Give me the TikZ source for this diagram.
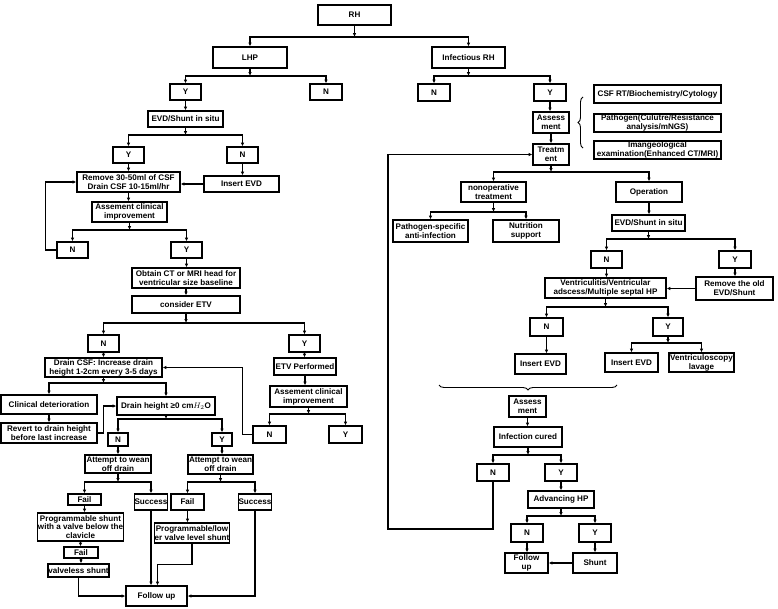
\documentclass[tikz,border=0pt]{standalone}
\usepackage{fontspec}
\setmainfont{Liberation Sans}
\usetikzlibrary{arrows.meta,decorations.pathreplacing}
\tikzset{
  box/.style={draw, line width=1.1pt, inner sep=0.3pt, align=center,
    font=\fontsize{8.1}{8.9}\selectfont\bfseries},
  arr/.style={line width=1.05pt, -{Latex[length=3.8pt,width=3.4pt]}},
  ln/.style={line width=1.05pt},
  brc/.style={line width=0.9pt, decorate, decoration={brace, amplitude=5pt}},
}
\newcommand\bx[6]{\node[box,minimum width=#4pt,minimum height=#5pt] (#1) at (#2,#3) {#6};}
\newcommand\fork[3]{%
  \coordinate (j#1) at (#1.south |- 0,#2);
  \draw[arr] (#1.south) -- (j#1);
  \foreach \ch in {#3}{\draw[arr] (j#1) -| (\ch.north);}}
\begin{document}
\begin{tikzpicture}[x=1pt,y=-1pt]
\fill[white] (0,0) rectangle (778,608);
\useasboundingbox (0,0) rectangle (778,608);
% ---------- left branch ----------
\bx{RH}{354.5}{15}{73}{20}{RH}
\bx{LHP}{250}{57.5}{74}{21}{LHP}
\bx{Ya}{185.5}{92}{31}{16}{Y}
\bx{Na}{326}{92}{32}{16}{N}
\bx{EVDa}{185.5}{119}{75}{16}{EVD/Shunt in situ}
\bx{Yb}{128.5}{155}{31}{16}{Y}
\bx{Nb}{242.5}{155}{31}{16}{N}
\bx{Rem}{128.5}{182}{103}{20}{Remove 30-50ml of CSF\\Drain CSF 10-15ml/hr}
\bx{InsA}{241.5}{184}{75}{16}{Insert EVD}
\bx{AsA}{129.5}{212}{75}{20}{Assement clinical\\improvement}
\bx{Nc}{72.5}{250}{31}{16}{N}
\bx{Yc}{186.5}{250}{31}{16}{Y}
\bx{Obt}{186}{278}{108}{20}{Obtain CT or MRI head for\\ventricular size baseline}
\bx{ETV}{186}{304.5}{108}{17}{consider ETV}
\bx{Nd}{103.5}{343.5}{31}{17}{N}
\bx{Yd}{304.5}{343.5}{31}{17}{Y}
\bx{Dcsf}{103.5}{367.5}{117}{19}{Drain CSF: Increase drain\\height 1-2cm every 3-5 days}
\bx{ETVp}{305}{366.5}{62}{17}{ETV Performed}
\bx{AsB}{308.5}{396.5}{77}{21}{Assement clinical\\improvement}
\bx{Ne}{269.5}{434.5}{33}{17}{N}
\bx{Ye}{345.5}{434.5}{33}{17}{Y}
\bx{Clin}{49}{404.5}{96}{19}{Clinical deterioration}
\bx{Rev}{49}{433}{96}{20}{Revert to drain height\\before last increase}
\bx{Dh}{166}{406}{98}{18}{Drain height ≥0 cm$H_2$O}
\bx{Nf}{118}{439.5}{20}{13}{N}
\bx{Yf}{222}{439.5}{20}{13}{Y}
\bx{AtA}{118}{464}{66}{18}{Attempt to wean\\off drain}
\bx{AtB}{220.5}{464.5}{65}{19}{Attempt to wean\\off drain}
\bx{FailA}{84.5}{499.5}{33}{11}{Fail}
\bx{SucA}{151}{502}{30}{16}{Success}
\bx{FailB}{187.5}{502}{33}{16}{Fail}
\bx{SucB}{255}{502}{30}{16}{Success}
\bx{Prog}{80.5}{527}{81}{28}{Programmable shunt\\with a valve below the\\clavicle}
\bx{FailC}{81}{552.5}{34}{11}{Fail}
\bx{Valv}{78.5}{570.5}{61}{13}{valveless shunt}
\bx{ProgL}{192}{533}{72}{20}{Programmable/low\\er valve level shunt}
\bx{Fol}{156.5}{596}{61}{20}{Follow up}
% ---------- right branch ----------
\bx{InfRH}{468.5}{57.5}{73}{21}{Infectious RH}
\bx{Ng}{434}{92.5}{32}{17}{N}
\bx{Yg}{550}{92.5}{32}{17}{Y}
\bx{AssA}{551}{122.5}{36}{21}{Assess\\ment}
\bx{Tr}{551}{154.5}{36}{21}{Treatm\\ent}
\bx{CSF}{657.5}{94}{127}{18}{CSF RT/Biochemistry/Cytology}
\bx{Path}{657.5}{123}{127}{18}{Pathogen(Culutre/Resistance\\analysis/mNGS)}
\bx{Img}{657.5}{150}{127}{18}{Imangeological\\examination(Enhanced CT/MRI)}
\bx{Nonop}{493.5}{192}{65}{20}{nonoperative\\treatment}
\bx{Oper}{649}{192}{66}{20}{Operation}
\bx{PSpec}{430.5}{231}{75}{22}{Pathogen-specific\\anti-infection}
\bx{Nutr}{526}{231}{66}{22}{Nutrition\\support}
\bx{EVDb}{648.5}{223}{73}{16}{EVD/Shunt in situ}
\bx{Nh}{606.5}{259.5}{31}{17}{N}
\bx{Yh}{735}{259.5}{32}{17}{Y}
\bx{Vent}{605.5}{288}{121}{20}{Ventriculitis/Ventricular\\adscess/Multiple septal HP}
\bx{RemO}{734.5}{288.5}{77}{23}{Remove the old\\EVD/Shunt}
\bx{Ni}{546.5}{327}{33}{18}{N}
\bx{Yi}{668}{327}{30}{18}{Y}
\bx{InsB}{540.5}{364}{51}{20}{Insert EVD}
\bx{InsC}{631.5}{362.5}{53}{19}{Insert EVD}
\bx{Ventr}{701.5}{362.5}{65}{19}{Ventriculoscopy\\lavage}
\bx{AssB}{527.5}{406.5}{37}{21}{Assess\\ment}
\bx{Cur}{528}{437}{68}{20}{Infection cured}
\bx{Nj}{493}{472.5}{32}{17}{N}
\bx{Yj}{561}{472.5}{32}{17}{Y}
\bx{Adv}{561}{499.5}{66}{17}{Advancing HP}
\bx{Nk}{527}{533}{32}{18}{N}
\bx{Yk}{595}{533}{32}{18}{Y}
\bx{FolB}{526.5}{563}{43}{20}{Follow\\up}
\bx{Sh}{595}{563}{44}{20}{Shunt}
% ---------- connectors: left ----------
\fork{RH}{37}{LHP,InfRH}
\fork{LHP}{76}{Ya,Na}
\draw[arr] (Ya.south) -- (Ya.south |- EVDa.north);
\fork{EVDa}{135}{Yb,Nb}
\draw[arr] (Yb.south) -- (Yb.south |- Rem.north);
\draw[arr] (Nb.south) -- (Nb.south |- InsA.north);
\draw[arr] (InsA.west) -- (InsA.west -| Rem.east);
\draw[arr] (Rem.south) -- (Rem.south |- AsA.north);
\fork{AsA}{230}{Nc,Yc}
\draw[arr] (Nc.west) -| ([xshift=-31pt]Rem.west) -- (Rem.west);
\draw[arr] (Yc.south) -- (Yc.south |- Obt.north);
\draw[arr] (Obt.south) -- (Obt.south |- ETV.north);
\fork{ETV}{323}{Nd,Yd}
\draw[arr] (Nd.south) -- (Nd.south |- Dcsf.north);
\draw[arr] (Yd.south) -- (Yd.south |- ETVp.north);
\draw[arr] (ETVp.south) -- (ETVp.south |- AsB.north);
\fork{AsB}{414}{Ne,Ye}
\draw[arr] (Ne.west) -- ++(-10,0) |- (Dcsf.east);
\fork{Dcsf}{383}{Clin,Dh}
\draw[arr] (Clin.south) -- (Clin.south |- Rev.north);
\draw[arr] (Rev.east) -- ++(6,0) |- (Dh.west);
\fork{Dh}{419}{Nf,Yf}
\draw[arr] (Nf.south) -- (Nf.south |- AtA.north);
\draw[arr] (Yf.south) -- (Yf.south |- AtB.north);
\fork{AtA}{482}{FailA,SucA}
\fork{AtB}{482}{FailB,SucB}
\draw[arr] (FailA.south) -- (FailA.south |- Prog.north);
\draw[arr] (Prog.south) -- (Prog.south |- FailC.north);
\draw[arr] (FailC.south) -- (FailC.south |- Valv.north);
\draw[arr] (FailB.south) -- (FailB.south |- ProgL.north);
\draw[arr] (Valv.south) |- (Fol.west);
\draw[arr] (SucA.south) -- (SucA.south |- Fol.north);
\draw[arr] (ProgL.south) -- ++(0,21) -| ([xshift=1pt]Fol.north);
\draw[arr] (SucB.south) |- (Fol.east);
% ---------- connectors: right ----------
\fork{InfRH}{76}{Ng,Yg}
\draw[arr] (Yg.south) -- (Yg.south |- AssA.north);
\draw[arr] (AssA.south) -- (AssA.south |- Tr.north);
\draw[brc] (583,148) -- (583,97);
\fork{Tr}{172}{Nonop,Oper}
\fork{Nonop}{212}{PSpec,Nutr}
\draw[arr] (Oper.south) -- (Oper.south |- EVDb.north);
\fork{EVDb}{239}{Nh,Yh}
\draw[arr] (Nh.south) -- (Nh.south |- Vent.north);
\draw[arr] (Yh.south) -- (Yh.south |- RemO.north);
\draw[arr] (RemO.west) -- (RemO.west -| Vent.east);
\fork{Vent}{307}{Ni,Yi}
\draw[arr] (Ni.south) -- (Ni.south |- InsB.north);
\fork{Yi}{343}{InsC,Ventr}
\draw[brc] (617,385) -- (439,385);
\draw[arr] (AssB.south) -- (AssB.south |- Cur.north);
\fork{Cur}{455}{Nj,Yj}
\coordinate (loop) at (388,529);
\draw[arr] (Nj.south) |- (loop) |- (Tr.west);
\draw[arr] (Yj.south) -- (Yj.south |- Adv.north);
\fork{Adv}{516}{Nk,Yk}
\draw[arr] (Nk.south) -- (Nk.south |- FolB.north);
\draw[arr] (Yk.south) -- (Yk.south |- Sh.north);
\draw[arr] (Sh.west) -- (Sh.west -| FolB.east);
\end{tikzpicture}
\end{document}
